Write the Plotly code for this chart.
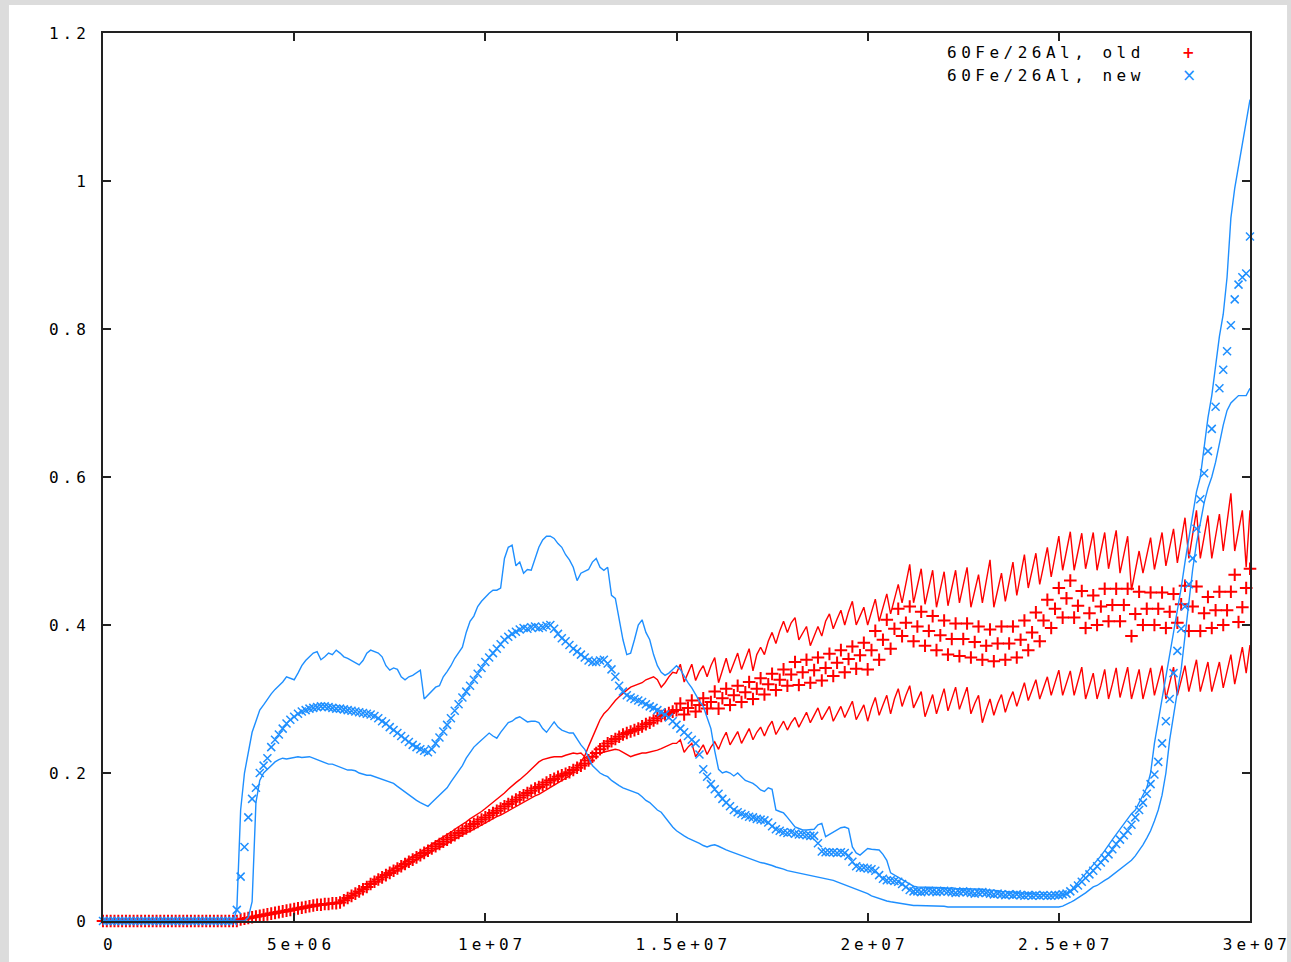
import plotly.graph_objects as go

# sample grid (step 1e5)
x = [i * 100000 for i in range(301)]

# 60Fe/26Al, old : mean (+ markers), and two envelope lines
red_mean = [0,0,0,0,0,0,0,0,0,0,
 0,0,0,0,0,0,0,0,0,0,
 0,0,0,0,0,0,0,0,0,0,
 0,0,0,0,0,0,0.002,0.003,0.004,0.005,
 0.006,0.007,0.008,0.009,0.01,0.011,0.012,0.013,0.014,0.015,
 0.016,0.017,0.018,0.019,0.02,0.021,0.022,0.022,0.023,0.023,
 0.024,0.024,0.025,0.028,0.031,0.034,0.037,0.04,0.043,0.046,
 0.05,0.053,0.056,0.059,0.062,0.065,0.068,0.071,0.074,0.077,
 0.08,0.083,0.086,0.089,0.092,0.095,0.098,0.101,0.104,0.107,
 0.11,0.113,0.116,0.119,0.122,0.125,0.128,0.131,0.134,0.137,
 0.14,0.143,0.146,0.149,0.152,0.155,0.158,0.161,0.164,0.167,
 0.17,0.173,0.176,0.179,0.181,0.184,0.187,0.19,0.192,0.195,
 0.197,0.199,0.201,0.204,0.207,0.21,0.213,0.217,0.222,0.227,
 0.232,0.236,0.24,0.243,0.246,0.249,0.252,0.254,0.256,0.258,
 0.26,0.263,0.266,0.268,0.271,0.274,0.277,0.279,0.281,0.283,
 0.285,0.294,0.279,0.288,0.298,0.283,0.292,0.301,0.287,0.296,
 0.31,0.287,0.301,0.314,0.292,0.305,0.318,0.296,0.309,0.323,
 0.3,0.314,0.328,0.306,0.32,0.334,0.312,0.326,0.34,0.318,
 0.333,0.35,0.319,0.336,0.353,0.322,0.339,0.356,0.325,0.342,
 0.361,0.331,0.349,0.366,0.336,0.354,0.371,0.341,0.359,0.376,
 0.34,0.366,0.392,0.353,0.38,0.407,0.368,0.395,0.422,0.385,
 0.403,0.425,0.378,0.398,0.418,0.372,0.392,0.412,0.366,0.386,
 0.406,0.36,0.381,0.402,0.358,0.381,0.402,0.356,0.377,0.398,
 0.353,0.372,0.394,0.351,0.375,0.398,0.353,0.375,0.398,0.356,
 0.38,0.406,0.366,0.39,0.417,0.378,0.406,0.434,0.396,0.422,
 0.45,0.41,0.436,0.46,0.41,0.426,0.446,0.396,0.416,0.44,
 0.4,0.425,0.449,0.405,0.427,0.449,0.405,0.427,0.449,0.385,
 0.415,0.445,0.4,0.422,0.444,0.4,0.422,0.444,0.396,0.418,
 0.442,0.403,0.428,0.453,0.392,0.425,0.452,0.392,0.416,0.438,
 0.396,0.42,0.445,0.40,0.42,0.445,0.468,0.404,0.424,0.45,0.476]

red_upper = [0,0,0,0,0,0,0,0,0,0,
 0,0,0,0,0,0,0,0,0,0,
 0,0,0,0,0,0,0,0,0,0,
 0,0,0,0,0,0,0.002,0.003,0.004,0.005,
 0.006,0.007,0.008,0.009,0.01,0.011,0.012,0.013,0.014,0.015,
 0.016,0.017,0.018,0.019,0.02,0.021,0.022,0.022,0.023,0.023,
 0.024,0.024,0.025,0.028,0.031,0.033,0.036,0.039,0.042,0.045,
 0.049,0.052,0.054,0.057,0.06,0.063,0.066,0.069,0.071,0.074,
 0.077,0.08,0.083,0.085,0.088,0.091,0.094,0.097,0.099,0.102,
 0.105,0.108,0.11,0.113,0.116,0.119,0.121,0.124,0.127,0.129,
 0.132,0.135,0.138,0.141,0.143,0.146,0.149,0.152,0.154,0.157,
 0.16,0.163,0.166,0.169,0.171,0.174,0.177,0.18,0.183,0.186,
 0.189,0.192,0.196,0.202,0.207,0.215,0.223,0.236,0.249,0.26,
 0.272,0.28,0.285,0.292,0.298,0.303,0.308,0.312,0.316,0.318,
 0.32,0.322,0.326,0.328,0.33,0.326,0.316,0.322,0.33,0.336,
 0.335,0.347,0.323,0.335,0.347,0.325,0.337,0.345,0.33,0.345,
 0.356,0.322,0.34,0.355,0.335,0.348,0.362,0.34,0.355,0.368,
 0.338,0.36,0.37,0.36,0.378,0.39,0.375,0.392,0.405,0.39,
 0.403,0.41,0.38,0.39,0.398,0.372,0.385,0.398,0.385,0.405,
 0.415,0.395,0.408,0.42,0.4,0.418,0.432,0.4,0.412,0.424,
 0.4,0.418,0.435,0.405,0.425,0.442,0.415,0.437,0.455,0.43,
 0.457,0.482,0.43,0.452,0.476,0.428,0.45,0.474,0.424,0.448,
 0.472,0.426,0.45,0.474,0.43,0.455,0.478,0.424,0.445,0.468,
 0.43,0.46,0.488,0.424,0.448,0.47,0.432,0.46,0.485,0.44,
 0.468,0.495,0.45,0.472,0.497,0.455,0.48,0.505,0.465,0.49,
 0.52,0.474,0.5,0.526,0.474,0.5,0.524,0.476,0.5,0.525,
 0.474,0.5,0.525,0.476,0.5,0.528,0.47,0.495,0.52,0.447,
 0.475,0.5,0.47,0.495,0.518,0.475,0.5,0.525,0.48,0.505,
 0.53,0.484,0.515,0.545,0.49,0.525,0.555,0.49,0.52,0.548,
 0.49,0.52,0.55,0.5,0.54,0.578,0.5,0.53,0.555,0.478,0.555]

red_lower = [0,0,0,0,0,0,0,0,0,0,
 0,0,0,0,0,0,0,0,0,0,
 0,0,0,0,0,0,0,0,0,0,
 0,0,0,0,0,0,0.001,0.002,0.003,0.004,
 0.005,0.006,0.007,0.008,0.009,0.01,0.011,0.012,0.013,0.014,
 0.015,0.016,0.017,0.018,0.019,0.02,0.021,0.021,0.022,0.022,
 0.024,0.025,0.026,0.029,0.032,0.035,0.038,0.041,0.044,0.047,
 0.052,0.055,0.058,0.061,0.064,0.068,0.071,0.074,0.077,0.08,
 0.084,0.087,0.09,0.094,0.097,0.1,0.104,0.107,0.11,0.114,
 0.117,0.12,0.124,0.127,0.131,0.134,0.138,0.141,0.145,0.148,
 0.152,0.156,0.16,0.164,0.168,0.173,0.178,0.183,0.187,0.191,
 0.195,0.2,0.205,0.21,0.215,0.218,0.22,0.221,0.222,0.222,
 0.222,0.224,0.226,0.227,0.226,0.227,0.222,0.218,0.222,0.227,
 0.227,0.228,0.23,0.231,0.232,0.231,0.228,0.225,0.222,0.224,
 0.226,0.227,0.227,0.228,0.23,0.231,0.233,0.235,0.237,0.24,
 0.24,0.245,0.228,0.235,0.24,0.222,0.23,0.238,0.225,0.235,
 0.242,0.232,0.245,0.255,0.238,0.248,0.256,0.24,0.25,0.26,
 0.245,0.255,0.262,0.25,0.262,0.27,0.252,0.262,0.27,0.258,
 0.268,0.275,0.262,0.272,0.282,0.268,0.278,0.288,0.272,0.282,
 0.29,0.27,0.28,0.29,0.275,0.287,0.297,0.272,0.282,0.292,
 0.27,0.288,0.302,0.278,0.292,0.305,0.28,0.3,0.314,0.29,
 0.305,0.318,0.288,0.3,0.31,0.276,0.292,0.306,0.28,0.298,
 0.314,0.284,0.3,0.316,0.286,0.302,0.316,0.28,0.294,0.305,
 0.268,0.285,0.3,0.278,0.294,0.306,0.282,0.298,0.31,0.29,
 0.305,0.322,0.298,0.312,0.326,0.3,0.315,0.33,0.305,0.322,
 0.339,0.305,0.322,0.338,0.305,0.325,0.343,0.3,0.318,0.335,
 0.3,0.318,0.34,0.3,0.32,0.342,0.302,0.322,0.343,0.3,
 0.32,0.34,0.3,0.32,0.342,0.305,0.325,0.345,0.3,0.322,
 0.343,0.305,0.325,0.345,0.31,0.332,0.353,0.31,0.33,0.35,
 0.31,0.33,0.35,0.315,0.34,0.36,0.32,0.345,0.37,0.335,0.373]

# 60Fe/26Al, new : mean (x markers), and two envelope lines
blue_mean = [0,0,0,0,0,0,0,0,0,0,
 0,0,0,0,0,0,0,0,0,0,
 0,0,0,0,0,0,0,0,0,0,
 0,0,0,0,0,0.015,0.06,0.10,0.14,0.165,
 0.18,0.20,0.21,0.22,0.235,0.245,0.252,0.26,0.267,0.272,
 0.276,0.28,0.283,0.285,0.287,0.288,0.289,0.29,0.29,0.289,
 0.288,0.287,0.287,0.286,0.285,0.284,0.283,0.282,0.281,0.28,
 0.279,0.277,0.274,0.27,0.267,0.262,0.258,0.254,0.25,0.246,
 0.242,0.238,0.235,0.232,0.23,0.228,0.232,0.24,0.248,0.256,
 0.265,0.274,0.284,0.293,0.302,0.31,0.318,0.326,0.334,0.342,
 0.35,0.356,0.362,0.368,0.374,0.38,0.384,0.388,0.391,0.394,
 0.396,0.395,0.397,0.398,0.396,0.397,0.399,0.4,0.395,0.388,
 0.382,0.378,0.373,0.368,0.364,0.36,0.356,0.352,0.35,0.35,
 0.352,0.353,0.348,0.34,0.33,0.318,0.31,0.305,0.302,0.3,
 0.298,0.296,0.293,0.29,0.288,0.285,0.282,0.279,0.275,0.27,
 0.265,0.26,0.255,0.25,0.245,0.24,0.225,0.205,0.195,0.185,
 0.178,0.172,0.165,0.16,0.155,0.15,0.147,0.145,0.143,0.141,
 0.14,0.138,0.137,0.136,0.133,0.128,0.124,0.122,0.12,0.119,
 0.12,0.118,0.117,0.117,0.116,0.115,0.115,0.105,0.094,0.093,
 0.093,0.093,0.092,0.093,0.092,0.088,0.08,0.074,0.072,0.072,
 0.071,0.07,0.068,0.062,0.057,0.055,0.055,0.054,0.053,0.05,
 0.046,0.042,0.04,0.04,0.039,0.04,0.041,0.04,0.039,0.04,
 0.041,0.04,0.039,0.038,0.039,0.04,0.039,0.038,0.037,0.038,
 0.039,0.038,0.037,0.036,0.037,0.036,0.035,0.036,0.035,0.036,
 0.035,0.034,0.035,0.034,0.035,0.034,0.035,0.034,0.034,0.035,
 0.035,0.036,0.037,0.04,0.044,0.048,0.053,0.058,0.063,0.068,
 0.074,0.079,0.085,0.09,0.097,0.104,0.11,0.116,0.122,0.13,
 0.14,0.15,0.16,0.172,0.185,0.198,0.215,0.24,0.27,0.3,
 0.335,0.365,0.395,0.425,0.455,0.49,0.53,0.57,0.605,0.635,
 0.665,0.695,0.72,0.745,0.77,0.805,0.84,0.86,0.87,0.875,0.925]

blue_upper = [0,0,0,0,0,0,0,0,0,0,
 0,0,0,0,0,0,0,0,0,0,
 0,0,0,0,0,0,0,0,0,0,
 0,0,0,0,0,0.015,0.15,0.2,0.23,0.255,
 0.27,0.285,0.292,0.3,0.307,0.313,0.318,0.323,0.33,0.328,
 0.326,0.335,0.345,0.352,0.357,0.362,0.364,0.353,0.357,0.362,
 0.36,0.366,0.362,0.357,0.355,0.352,0.348,0.346,0.352,0.362,
 0.366,0.364,0.362,0.357,0.345,0.339,0.342,0.34,0.33,0.326,
 0.33,0.332,0.336,0.339,0.3,0.305,0.31,0.316,0.318,0.33,
 0.337,0.345,0.355,0.362,0.37,0.39,0.405,0.412,0.425,0.432,
 0.438,0.443,0.447,0.447,0.45,0.49,0.505,0.508,0.48,0.485,
 0.47,0.475,0.474,0.49,0.505,0.515,0.52,0.52,0.517,0.51,
 0.505,0.495,0.488,0.478,0.46,0.47,0.472,0.475,0.485,0.49,
 0.478,0.474,0.478,0.44,0.436,0.41,0.38,0.36,0.362,0.38,
 0.4,0.407,0.39,0.38,0.36,0.345,0.336,0.332,0.335,0.34,
 0.345,0.34,0.33,0.322,0.315,0.305,0.297,0.29,0.275,0.26,
 0.23,0.205,0.2,0.202,0.2,0.196,0.2,0.195,0.19,0.188,
 0.186,0.182,0.177,0.175,0.18,0.178,0.15,0.148,0.146,0.14,
 0.133,0.127,0.125,0.123,0.123,0.124,0.124,0.13,0.132,0.114,
 0.117,0.119,0.122,0.126,0.127,0.125,0.1,0.092,0.089,0.094,
 0.098,0.097,0.096,0.096,0.09,0.082,0.065,0.062,0.058,0.055,
 0.052,0.05,0.047,0.046,0.046,0.046,0.045,0.046,0.045,0.045,
 0.045,0.044,0.045,0.044,0.044,0.044,0.043,0.044,0.043,0.043,
 0.043,0.042,0.042,0.041,0.041,0.04,0.04,0.039,0.039,0.038,
 0.038,0.038,0.037,0.037,0.036,0.036,0.036,0.035,0.035,0.035,
 0.035,0.035,0.037,0.04,0.046,0.052,0.058,0.063,0.07,0.075,
 0.082,0.088,0.095,0.103,0.11,0.117,0.124,0.13,0.137,0.145,
 0.15,0.16,0.17,0.18,0.2,0.24,0.27,0.3,0.33,0.36,
 0.385,0.415,0.45,0.485,0.515,0.55,0.58,0.6,0.64,0.68,
 0.71,0.75,0.79,0.82,0.87,0.95,0.99,1.02,1.05,1.075,1.11]

blue_lower = [0,0,0,0,0,0,0,0,0,0,
 0,0,0,0,0,0,0,0,0,0,
 0,0,0,0,0,0,0,0,0,0,
 0,0,0,0,0,0,0,0,0.005,0.026,
 0.16,0.19,0.2,0.205,0.21,0.215,0.218,0.22,0.219,0.22,
 0.222,0.222,0.221,0.222,0.222,0.22,0.218,0.215,0.213,0.212,
 0.212,0.21,0.208,0.206,0.204,0.204,0.203,0.2,0.198,0.197,
 0.197,0.195,0.194,0.192,0.19,0.188,0.186,0.182,0.178,0.174,
 0.17,0.167,0.163,0.16,0.157,0.155,0.16,0.165,0.17,0.175,
 0.18,0.188,0.195,0.202,0.21,0.22,0.228,0.235,0.24,0.245,
 0.25,0.254,0.25,0.247,0.255,0.262,0.268,0.27,0.274,0.276,
 0.272,0.269,0.27,0.27,0.268,0.26,0.255,0.262,0.269,0.262,
 0.258,0.256,0.254,0.254,0.245,0.238,0.232,0.222,0.21,0.205,
 0.2,0.197,0.195,0.19,0.186,0.183,0.18,0.178,0.176,0.174,
 0.172,0.168,0.163,0.16,0.155,0.15,0.147,0.14,0.133,0.127,
 0.122,0.118,0.115,0.112,0.11,0.108,0.105,0.102,0.1,0.102,
 0.103,0.101,0.098,0.096,0.094,0.092,0.09,0.088,0.086,0.084,
 0.082,0.08,0.079,0.078,0.077,0.075,0.073,0.072,0.07,0.068,
 0.067,0.066,0.064,0.063,0.062,0.061,0.06,0.059,0.058,0.057,
 0.056,0.055,0.053,0.051,0.05,0.048,0.046,0.044,0.042,0.04,
 0.037,0.034,0.032,0.03,0.028,0.027,0.026,0.025,0.024,0.023,
 0.022,0.022,0.021,0.021,0.021,0.02,0.02,0.02,0.02,0.02,
 0.02,0.019,0.019,0.019,0.019,0.019,0.019,0.018,0.018,0.018,
 0.018,0.018,0.018,0.018,0.018,0.018,0.018,0.018,0.018,0.018,
 0.018,0.018,0.018,0.019,0.019,0.019,0.019,0.019,0.019,0.019,
 0.019,0.02,0.022,0.025,0.028,0.031,0.034,0.038,0.042,0.046,
 0.048,0.052,0.055,0.058,0.062,0.066,0.07,0.074,0.078,0.082,
 0.088,0.095,0.103,0.112,0.122,0.135,0.15,0.17,0.2,0.245,
 0.28,0.31,0.34,0.385,0.43,0.475,0.51,0.54,0.565,0.585,
 0.6,0.62,0.645,0.67,0.69,0.7,0.705,0.71,0.71,0.71,0.72]

x_tickvals = [0, 5e6, 1e7, 1.5e7, 2e7, 2.5e7, 3e7]
x_ticklabels = ["0", "5e+06", "1e+07", "1.5e+07", "2e+07", "2.5e+07", "3e+07"]
y_tickvals = [0, 0.2, 0.4, 0.6, 0.8, 1.0, 1.2]
y_ticklabels = ["0", "0.2", "0.4", "0.6", "0.8", "1", "1.2"]
legend_labels = ["60Fe/26Al, old", "60Fe/26Al, new"]

RED = "#ff0000"
BLUE = "#1e8fff"
FONT = "DejaVu Sans Mono"


def spaced(t, ls=4):
    return '<span style="letter-spacing:%spx">' % ls + t + '</span>'


fig = go.Figure()
fig.add_trace(go.Scatter(x=x, y=red_upper, mode="lines", line=dict(color=RED, width=1.4), cliponaxis=False))
fig.add_trace(go.Scatter(x=x, y=red_lower, mode="lines", line=dict(color=RED, width=1.4), cliponaxis=False))
fig.add_trace(go.Scatter(x=x, y=red_mean, mode="markers", name=legend_labels[0],
                         marker=dict(symbol="cross-thin", size=9, line=dict(color=RED, width=2)), cliponaxis=False))
fig.add_trace(go.Scatter(x=x, y=blue_upper, mode="lines", line=dict(color=BLUE, width=1.4), cliponaxis=False))
fig.add_trace(go.Scatter(x=x, y=blue_lower, mode="lines", line=dict(color=BLUE, width=1.4), cliponaxis=False))
fig.add_trace(go.Scatter(x=x, y=blue_mean, mode="markers", name=legend_labels[1],
                         marker=dict(symbol="x-thin", size=8, line=dict(color=BLUE, width=1.5)), cliponaxis=False))

axis_common = dict(
    automargin=False,
    showgrid=False, zeroline=False, showline=True, linecolor="#222222", linewidth=2,
    mirror="ticks", ticks="inside", ticklen=8, tickwidth=1.5, tickcolor="#222222",
    tickfont=dict(family=FONT, size=16, color="#000000"),
)

fig.update_xaxes(range=[0, 3e7], tickvals=x_tickvals,
                 ticktext=[spaced("\u00a0" + t) for t in x_ticklabels],
                 ticklabelstandoff=8, **axis_common)
fig.update_yaxes(range=[0, 1.2], tickvals=y_tickvals, ticktext=[spaced(t) for t in y_ticklabels],
                 ticklabelstandoff=8, **axis_common)

annotations = [
    dict(xref="paper", yref="paper", x=0.910, y=0.9775, xanchor="right", yanchor="middle",
         text=spaced(legend_labels[0], 4.5), showarrow=False, font=dict(family=FONT, size=16, color="#000")),
    dict(xref="paper", yref="paper", x=0.910, y=0.9527, xanchor="right", yanchor="middle",
         text=spaced(legend_labels[1], 4.5), showarrow=False, font=dict(family=FONT, size=16, color="#000")),
    dict(xref="paper", yref="paper", x=0.9468, y=0.9775, xanchor="center", yanchor="middle",
         text="<b>+</b>", showarrow=False, font=dict(family="DejaVu Sans", size=15, color=RED)),
    dict(xref="paper", yref="paper", x=0.9468, y=0.9527, xanchor="center", yanchor="middle",
         text="×", showarrow=False, font=dict(family="DejaVu Sans", size=17, color=BLUE)),
]

fig.update_layout(
    width=1291, height=962,
    margin=dict(l=103, r=41, t=33, b=41, pad=0, autoexpand=False),
    paper_bgcolor="#dcdcdc", plot_bgcolor="#ffffff",
    showlegend=False,
    shapes=[dict(type="rect", xref="paper", yref="paper", x0=-0.082, x1=1.0323, y0=-0.05, y1=1.0315,
                 fillcolor="#ffffff", line=dict(width=0), layer="below")],
    annotations=annotations,
)

fig.write_html("out.html")
